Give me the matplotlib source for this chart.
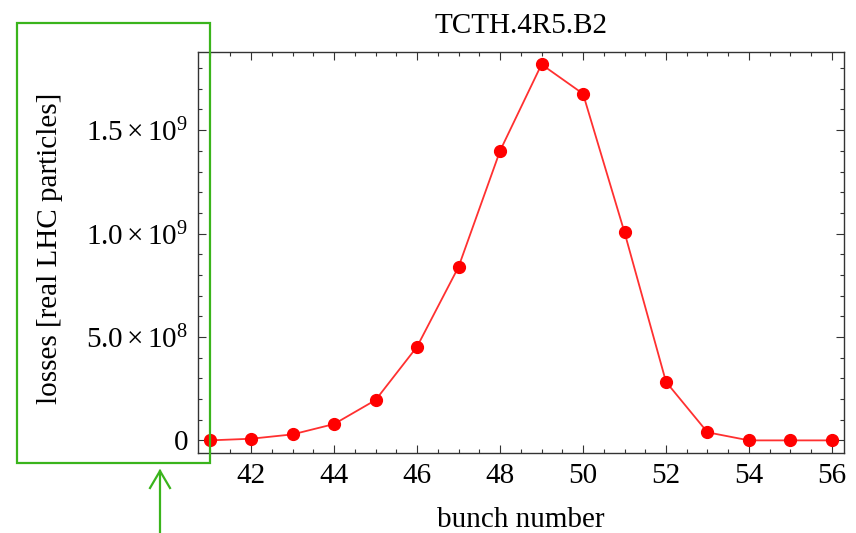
import matplotlib
matplotlib.use("Agg")
import matplotlib.pyplot as plt
from matplotlib.patches import Rectangle
from matplotlib.lines import Line2D
from matplotlib.ticker import MultipleLocator

plt.rcParams['font.family'] = ['Liberation Serif', 'DejaVu Serif']
plt.rcParams['mathtext.fontset'] = 'custom'
plt.rcParams['mathtext.rm'] = 'Liberation Serif'
plt.rcParams['mathtext.it'] = 'Liberation Serif:italic'

# data
bunch = [41, 42, 43, 44, 45, 46, 47, 48, 49, 50, 51, 52, 53, 54, 55, 56]
losses = [0, 8e6, 2.9e7, 7.9e7, 1.95e8, 4.53e8, 8.39e8, 1.40e9, 1.818e9,
          1.676e9, 1.006e9, 2.83e8, 3.9e7, 0, 0, 0]
ytick_vals = [0, 5e8, 1e9, 1.5e9]
ytick_labels = [r'$0$', r'$5.0\times10^{8}$', r'$1.0\times10^{9}$', r'$1.5\times10^{9}$']
xtick_vals = [42, 44, 46, 48, 50, 52, 54, 56]

W, H = 856, 533
fig = plt.figure(figsize=(W / 100, H / 100), dpi=100)
ax = fig.add_axes([198 / W, 1 - 453 / H, (844 - 198) / W, (453 - 52) / H])

ax.plot(bunch, losses, color='#ff3030', lw=1.3, marker='o', ms=8.5,
        mfc='#ff0000', mec='#ff0000', zorder=3)

ax.set_xlim(40.72, 56.29)
ax.set_ylim(-6.1e7, 1.878e9)
ax.set_xticks(xtick_vals)
ax.set_xticklabels([str(v) for v in xtick_vals])
ax.set_yticks(ytick_vals)
ax.set_yticklabels(ytick_labels)
ax.xaxis.set_minor_locator(MultipleLocator(0.5))
ax.yaxis.set_minor_locator(MultipleLocator(1e8))

frame_col = '#333333'
for s in ax.spines.values():
    s.set_color(frame_col)
    s.set_linewidth(1.0)
ax.tick_params(which='both', direction='in', top=True, right=True,
               color=frame_col, width=0.8, labelsize=21, labelcolor='black')
ax.tick_params(which='major', length=5.5, pad=7)
ax.tick_params(which='minor', length=3)

ax.set_title('TCTH.4R5.B2', fontsize=21, pad=14)
ax.set_xlabel('bunch number', fontsize=21, labelpad=13)
ax.set_ylabel('losses [real LHC particles]', fontsize=21)
ax.yaxis.set_label_coords(-0.209, 0.51)

# green highlight box and arrow
green = '#3ab41c'
def fp(x, y):
    return x / W, 1 - y / H

x0, y0 = fp(17.3, 462.7)
x1, y1 = fp(210, 23.3)
fig.add_artist(Rectangle((x0, y0), x1 - x0, y1 - y0, transform=fig.transFigure,
                         fill=False, edgecolor=green, lw=1.6))
sx, sy = fp(160, 540)
tx, ty = fp(160, 471)
lx, ly = fp(150, 488)
rx, ry = fp(170, 488)
fig.add_artist(Line2D([sx, tx], [sy, ty], transform=fig.transFigure, color=green, lw=1.6))
fig.add_artist(Line2D([lx, tx, rx], [ly, ty, ry], transform=fig.transFigure,
                      color=green, lw=1.6, solid_joinstyle='miter'))

fig.savefig('out.png', dpi=100)
